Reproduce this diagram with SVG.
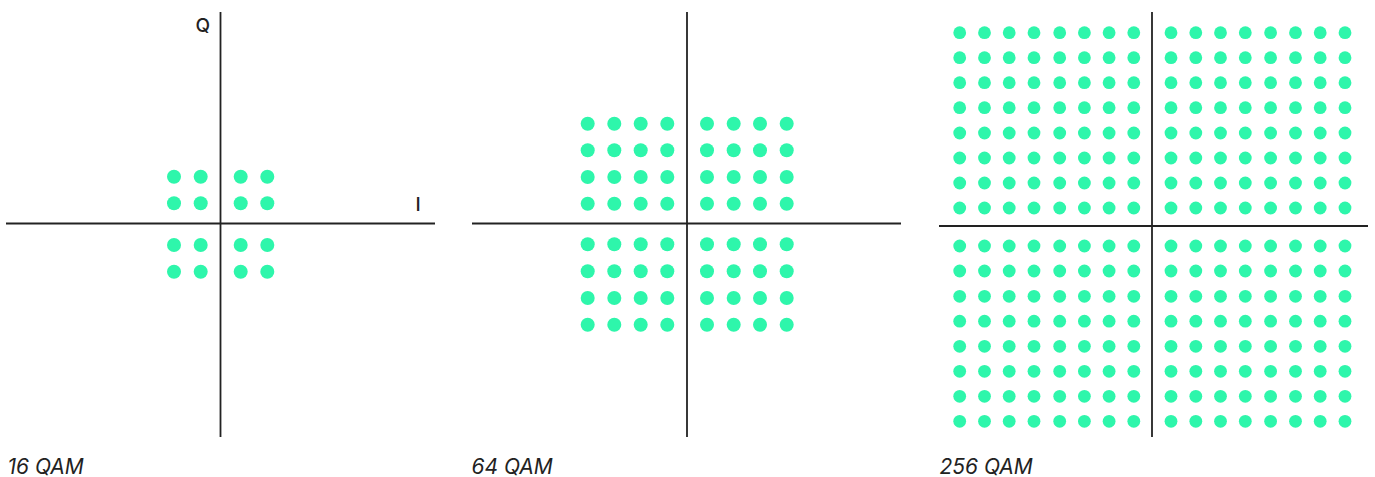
<svg xmlns="http://www.w3.org/2000/svg" width="1375" height="477" viewBox="0 0 1375 477">
<style>
.ax{stroke:#222;stroke-width:1.8;fill:none}
.d{fill:#2ef6ab}
.lbl{font-family:Inter,"Liberation Sans",sans-serif;font-style:italic;font-size:21px;fill:#222}
.axl{font-family:Inter,"Liberation Sans",sans-serif;font-size:19px;font-weight:500;fill:#222}
</style>
<defs>
<circle id="a" r="7" class="d"/>
<circle id="b" r="6.4" class="d"/>
<g id="r8a">
<use href="#a" x="587.7"/><use href="#a" x="614.3"/><use href="#a" x="640.7"/><use href="#a" x="667.3"/>
<use href="#a" x="707"/><use href="#a" x="733.7"/><use href="#a" x="760"/><use href="#a" x="786.7"/>
</g>
<g id="r16">
<use href="#b" x="959.7"/><use href="#b" x="984.5"/><use href="#b" x="1009.2"/><use href="#b" x="1034"/>
<use href="#b" x="1059.7"/><use href="#b" x="1084.4"/><use href="#b" x="1109.1"/><use href="#b" x="1133.8"/>
<use href="#b" x="1171"/><use href="#b" x="1195.8"/><use href="#b" x="1220.5"/><use href="#b" x="1245.3"/>
<use href="#b" x="1270.6"/><use href="#b" x="1295.5"/><use href="#b" x="1320.2"/><use href="#b" x="1345"/>
</g>
</defs>
<g id="connectors">
<line class="ax" x1="220.5" y1="12" x2="220.5" y2="437"/>
<line class="ax" x1="6" y1="223.5" x2="435" y2="223.5"/>
<line class="ax" x1="687" y1="12" x2="687" y2="437"/>
<line class="ax" x1="472" y1="223.5" x2="901" y2="223.5"/>
<line class="ax" x1="1152" y1="12" x2="1152" y2="437"/>
<line class="ax" x1="939" y1="226" x2="1368" y2="226"/>
</g>
<g id="qam16">
<text class="axl" x="195.5" y="32">Q</text>
<text class="axl" x="415.5" y="211">I</text>
<g>
<use href="#a" x="174" y="176.7"/><use href="#a" x="200.7" y="176.7"/><use href="#a" x="240.7" y="176.7"/><use href="#a" x="267.3" y="176.7"/>
<use href="#a" x="174" y="203.3"/><use href="#a" x="200.7" y="203.3"/><use href="#a" x="240.7" y="203.3"/><use href="#a" x="267.3" y="203.3"/>
<use href="#a" x="174" y="245"/><use href="#a" x="200.7" y="245"/><use href="#a" x="240.7" y="245"/><use href="#a" x="267.3" y="245"/>
<use href="#a" x="174" y="271.7"/><use href="#a" x="200.7" y="271.7"/><use href="#a" x="240.7" y="271.7"/><use href="#a" x="267.3" y="271.7"/>
</g>
<text class="lbl" x="7.5" y="473.5">16 QAM</text>
</g>
<g id="qam64">
<use href="#r8a" y="123.7"/><use href="#r8a" y="150.3"/><use href="#r8a" y="177"/><use href="#r8a" y="203.7"/>
<use href="#r8a" y="244.3"/><use href="#r8a" y="271.3"/><use href="#r8a" y="298"/><use href="#r8a" y="324.7"/>
<text class="lbl" x="471.5" y="473.5">64 QAM</text>
</g>
<g id="qam256">
<use href="#r16" y="32.7"/><use href="#r16" y="57.7"/><use href="#r16" y="82.7"/><use href="#r16" y="107.7"/>
<use href="#r16" y="133"/><use href="#r16" y="158"/><use href="#r16" y="183"/><use href="#r16" y="208"/>
<use href="#r16" y="246"/><use href="#r16" y="271"/><use href="#r16" y="296.3"/><use href="#r16" y="321.2"/>
<use href="#r16" y="346.3"/><use href="#r16" y="371.3"/><use href="#r16" y="396.3"/><use href="#r16" y="421.3"/>
<text class="lbl" x="939.5" y="473.5">256 QAM</text>
</g>
</svg>
